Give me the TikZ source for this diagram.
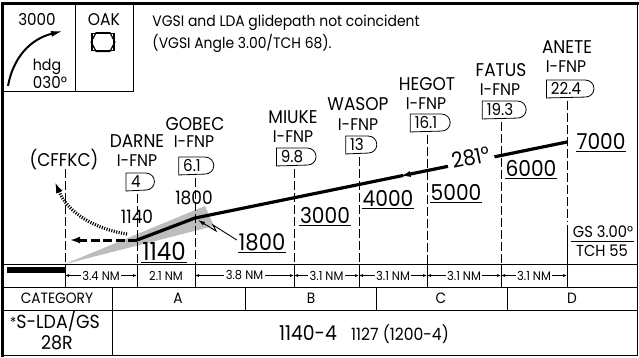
\documentclass[tikz,border=0pt]{standalone}
\usepackage{fontspec}
\setmainfont{Poppins}[FakeStretch=0.92]
\usetikzlibrary{arrows.meta,calc}

\newcommand{\fsz}[1]{\fontsize{#1}{#1}\selectfont}
% outline of a DME distance box, square at the left, round at the right
\newcommand{\dmebox}[1]{\draw[line width=0.8bp] (#1.north west) -- (#1.north east)
  arc[start angle=90,end angle=-90,radius=8.5bp] -- (#1.south west) -- cycle;}

\tikzset{
  fixname/.style={inner sep=0pt,font=\fsz{18.5}},
  fixid/.style={inner sep=0pt,font=\fsz{17}},
  dme/.style={minimum height=17bp,minimum width=19bp,inner xsep=4bp,inner ysep=0pt,
    text height=11.5bp,text depth=0pt,font=\fsz{16.5}},
  fixline/.style={line width=0.8bp,dash pattern=on 9bp off 3bp},
  alt/.style={inner xsep=0.5bp,inner ysep=2bp,text depth=0pt,font=\fsz{22},
    append after command={(\tikzlastnode.south west) edge[line width=0.9bp] (\tikzlastnode.south east)}},
  smallalt/.style={inner sep=0pt,font=\fsz{18.5}},
  glide/.style={line width=3.2bp},
  dim/.style={line width=0.7bp,{Latex[length=4bp,width=3bp]}-{Latex[length=4bp,width=3bp]}},
  dimlabel/.style={fill=white,inner xsep=1.5bp,inner ysep=1bp,font=\fsz{12.5}},
  cell/.style={inner sep=0pt,font=\fsz{15}},
  frame/.style={line width=2.6bp},
}

\begin{document}
\begin{tikzpicture}[x=1bp,y=-1bp,line width=0.9bp]
 \useasboundingbox (0,0) rectangle (639,357);
 \definecolor{conegray}{HTML}{BDBDBD}

 % frame and table
 \draw (3,4) rectangle (637.5,355.5);
 \draw[frame] (2.5,357) -- (2.5,3.5) -- (639,3.5);
 \draw (3,91) -- (133,91) -- (133,4);
 \draw (75,4) -- (75,91);
 \draw (3,264) -- (637.5,264);
 \draw (3,287) -- (637.5,287);
 \draw (3,310) -- (637.5,310);
 \draw (112,287) -- (112,355);
 \draw (245,287) -- (245,310) (376,287) -- (376,310) (507,287) -- (507,310);

 % heading box
 \node[font=\fsz{16.5},inner sep=0pt] (alt3000) at (37,19.5) {3000};
 \coordinate (hs) at (8,86);
 \coordinate (he) at (63,31);
 \draw[line width=2bp,-{Latex[length=12bp,width=6bp]}] (hs) .. controls (13,58) and (30,39) .. (he);
 \node[font=\fsz{15.5},inner sep=0pt] (hdg) at (47,67) {hdg};
 \node[font=\fsz{16.5},inner sep=0pt] (hdgval) at (50,82) {030°};
 \node[font=\fsz{17},inner sep=0pt] (oak) at (104,19.5) {OAK};
 \node[draw,line width=1.8bp,minimum width=22bp,minimum height=17bp,inner sep=0pt] (vor) at (103,42) {};
 \draw[line width=1.2bp] (vor.west) -- ($(vor.north west)+(5,0)$) -- ($(vor.north east)+(-5,0)$)
   -- (vor.east) -- ($(vor.south east)+(-5,0)$) -- ($(vor.south west)+(5,0)$) -- cycle;
 \node[anchor=base west,font=\fsz{15.2},inner sep=0pt] (note1) at (152,26) {VGSI and LDA glidepath not coincident};
 \node[anchor=base west,font=\fsz{15.2},inner sep=0pt] (note2) at (152,48) {(VGSI Angle 3.00/TCH 68).};

 % glide cone
 \fill[conegray] (65,264) -- (205,206) -- (214,226) -- cycle;

 % fixes
 \node[fixname] (nC) at (64,160) {(CFFKC)};
 \coordinate (xC) at (65,264);
 \draw[fixline] (xC |- 0,169) -- (xC);

 \node[fixname] (nD) at (137,141) {DARNE};
 \node[fixid] (iD) at (137,161) {I-FNP};
 \node[dme] (bD) at (136,182) {4};
 \dmebox{bD}
 \coordinate (xD) at (137,264);
 \draw[fixline] ($(xD |- bD.south)+(0,3)$) -- (xD);

 \node[fixname] (nG) at (195,124) {GOBEC};
 \node[fixid] (iG) at (194,142) {I-FNP};
 \node[dme] (bG) at (192,166) {6.1};
 \dmebox{bG}
 \coordinate (xG) at (195,264);
 \draw[fixline] ($(xG |- bG.south)+(0,3)$) -- (xG);

 \node[fixname] (nM) at (293,117) {MIUKE};
 \node[fixid] (iM) at (293,137) {I-FNP};
 \node[dme] (bM) at (292,157) {9.8};
 \dmebox{bM}
 \coordinate (xM) at (294,264);
 \draw[fixline] ($(xM |- bM.south)+(0,3)$) -- (xM);

 \node[fixname] (nW) at (358,104) {WASOP};
 \node[fixid] (iW) at (358,125) {I-FNP};
 \node[dme] (bW) at (357,145) {13};
 \dmebox{bW}
 \coordinate (xW) at (359,264);
 \draw[fixline] ($(xW |- bW.south)+(0,3)$) -- (xW);

 \node[fixname] (nH) at (427,84) {HEGOT};
 \node[fixid] (iH) at (426,104) {I-FNP};
 \node[dme] (bH) at (426,123) {16.1};
 \dmebox{bH}
 \coordinate (xH) at (427,264);
 \draw[fixline] ($(xH |- bH.south)+(0,3)$) -- (xH);

 \node[fixname] (nF) at (501,70) {FATUS};
 \node[fixid] (iF) at (500,90) {I-FNP};
 \node[dme] (bF) at (500,110) {19.3};
 \dmebox{bF}
 \coordinate (xF) at (501,264);
 \draw[fixline] ($(xF |- bF.south)+(0,3)$) -- (xF);

 \node[fixname] (nA) at (567,47) {ANETE};
 \node[fixid] (iA) at (566,67) {I-FNP};
 \node[dme] (bA) at (566,89) {22.4};
 \dmebox{bA}
 \coordinate (xA) at (567,264);
 \draw[fixline] ($(xA |- bA.south)+(0,3)$) -- (xA |- 0,222);
 \draw (xA |- 0,225) -- (xA |- 0,287);

 % distance row
 \draw (xC) -- (xC |- 0,287) (xD) -- (xD |- 0,287) (xG) -- (xG |- 0,287) (xM) -- (xM |- 0,287)
   (xW) -- (xW |- 0,287) (xH) -- (xH |- 0,287) (xF) -- (xF |- 0,287);
 \fill (7,266.5) rectangle (65,272.5);
 \draw[dim] (xC |- 0,275.5) -- (xD |- 0,275.5) node[midway,dimlabel] {3.4 NM};
 \node[dimlabel] (d2) at ($(xD |- 0,275.5)!0.5!(xG |- 0,275.5)$) {2.1 NM};
 \draw[dim] (xG |- 0,275.5) -- (xM |- 0,275.5) node[midway,dimlabel] {3.8 NM};
 \draw[dim] (xM |- 0,275.5) -- (xW |- 0,275.5) node[midway,dimlabel] {3.1 NM};
 \draw[dim] (xW |- 0,275.5) -- (xH |- 0,275.5) node[midway,dimlabel] {3.1 NM};
 \draw[dim] (xH |- 0,275.5) -- (xF |- 0,275.5) node[midway,dimlabel] {3.1 NM};
 \draw[dim] (xF |- 0,275.5) -- (xA |- 0,275.5) node[midway,dimlabel] {3.1 NM};

 % glidepath and missed approach
 \coordinate (pD) at (137,240);
 \coordinate (pG) at (195,218);
 \coordinate (pA) at (567,142);
 \draw[glide,line join=round] (pD) -- (pG) -- ($(pG)!0.56!(pA)$);
 \draw[glide,-{Latex[length=11bp,width=6bp]}] ($(pG)!0.68!(pA)$) -- ($(pG)!0.55!(pA)$);
 \draw[glide] ($(pG)!0.805!(pA)$) -- (pA);
 \path (pG) -- (pA) node[pos=0.743,sloped,yshift=4bp,font=\fsz{21.5},inner sep=0pt] (crs) {281°};
 \coordinate (mEnd) at (70,240);
 \draw[line width=3bp,dash pattern=on 9bp off 3.5bp,-{Latex[length=10bp,width=7bp]}] (pD) -- (mEnd);
 \coordinate (cS) at (127,234);
 \coordinate (cE) at (55,182);
 \draw[line width=3.2bp,dash pattern=on 1.1bp off 1.4bp,-{Latex[length=11bp,width=7bp]}]
   (cS) .. controls (95,229) and (68,213) .. (cE);

 % altitudes
 \node[smallalt] (sD) at (137,217) {1140};
 \node[smallalt] (sG) at (194,198) {1800};
 \node[alt,font=\fsz{25}] (aD) at (164,251) {1140};
 \node[alt,font=\fsz{23}] (aG) at (262,242) {1800};
 \draw[line width=0.9bp,-{Latex[length=7bp,width=4bp]}] ($(aG.west)+(-1,-2)$) -- (213,225) -- (216,231) -- (198,220);
 \node[alt] (aM) at (325,215) {3000};
 \node[alt] (aW) at (388,198) {4000};
 \node[alt] (aH) at (456,192) {5000};
 \node[alt] (aF) at (531,168) {6000};
 \node[alt] (aA) at (601,141) {7000};
 \node[font=\fsz{16},inner sep=0pt] (gs) at (603,232) {GS 3.00°};
 \draw[line width=0.8bp] (571,241) -- (634,241);
 \node[font=\fsz{16},inner sep=0pt] (tch) at (602,251) {TCH 55};

 % minimums
 \node[cell] (cat) at (57,298.5) {CATEGORY};
 \node[cell] (catA) at (178,298.5) {A};
 \node[cell] (catB) at (311,298.5) {B};
 \node[cell] (catC) at (441,298.5) {C};
 \node[cell] (catD) at (572,298.5) {D};
 \node[font=\fsz{19},inner sep=0pt] (appr) at (55,321) {\raisebox{1bp}{\fsz{14}*}S-LDA/GS};
 \node[font=\fsz{19},inner sep=0pt] (rwy) at (57,343) {28R};
 \node[font=\fsz{20.5},inner sep=0pt] (mda) at (308,333) {1140-4};
 \node[font=\fsz{17},inner sep=0pt] (hat) at (400,334) {1127 (1200-4)};
\end{tikzpicture}
\end{document}
